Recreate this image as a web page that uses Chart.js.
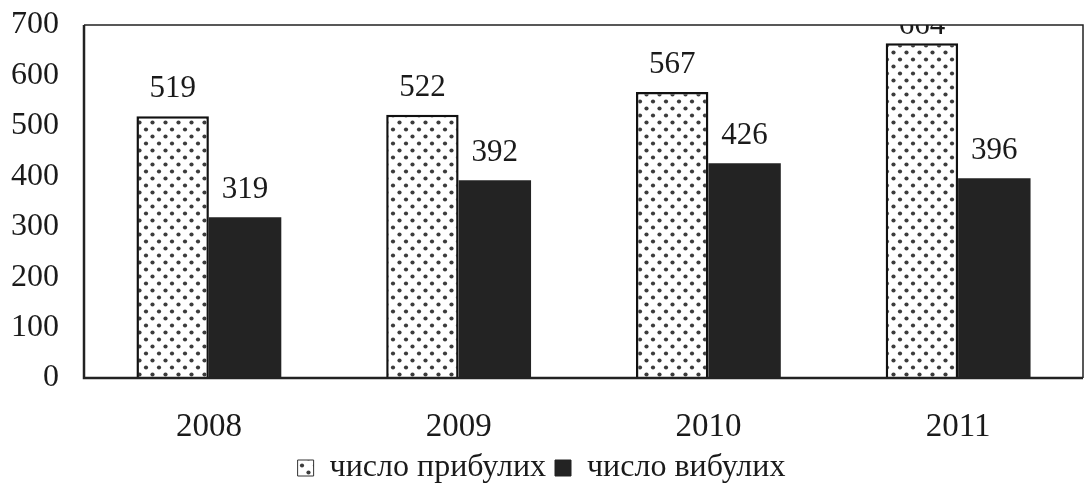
<!DOCTYPE html>
<html>
<head>
<meta charset="utf-8">
<script src="https://cdn.jsdelivr.net/npm/chart.js@4.4.1/dist/chart.umd.min.js"></script>
<style>
  html, body { margin: 0; padding: 0; background: #fff; }
  #wrap { width: 1084px; height: 496px; }
</style>
</head>
<body>
<div id="wrap"><canvas id="c" width="1084" height="496"></canvas></div>
<script>
// дані з діаграми
const years = ['2008', '2009', '2010', '2011'];
const arrived = [519, 522, 567, 664];   // число прибулих
const departed = [319, 392, 426, 396];  // число вибулих
const seriesNames = ['число прибулих', 'число вибулих'];
const yTicks = [0, 100, 200, 300, 400, 500, 600, 700];

const serif = '"Liberation Serif", "Times New Roman", serif';

// крапчаста заливка
function dotPattern() {
  const p = document.createElement('canvas');
  p.width = 13; p.height = 14;
  const g = p.getContext('2d');
  g.fillStyle = '#fff';
  g.fillRect(0, 0, 13, 14);
  g.fillStyle = '#3c3c3c';
  [[3, 3.5], [9.5, 10.5]].forEach(([x, y]) => {
    g.beginPath(); g.arc(x, y, 2.1, 0, Math.PI * 2); g.fill();
  });
  return document.getElementById('c').getContext('2d').createPattern(p, 'repeat');
}
const dots = dotPattern();

// рамка навколо області побудови
const frame = {
  id: 'frame',
  afterDatasetsDraw(chart) {
    const { ctx, chartArea: a } = chart;
    ctx.save();
    ctx.strokeStyle = '#222';
    ctx.lineWidth = 1.5;
    ctx.beginPath();
    ctx.moveTo(a.left, a.top); ctx.lineTo(a.right, a.top);
    ctx.lineTo(a.right, a.bottom);
    ctx.stroke();
    ctx.lineWidth = 2.5;
    ctx.beginPath();
    ctx.moveTo(a.left, a.top); ctx.lineTo(a.left, a.bottom); ctx.lineTo(a.right, a.bottom);
    ctx.stroke();
    ctx.restore();
  }
};

// підписи значень над стовпцями (обрізані по верхній межі)
const valueLabels = {
  id: 'valueLabels',
  afterDatasetsDraw(chart) {
    const { ctx, chartArea: a } = chart;
    ctx.save();
    ctx.beginPath();
    ctx.rect(a.left, a.top, a.right - a.left, a.bottom - a.top);
    ctx.clip();
    ctx.font = '31px ' + serif;
    ctx.fillStyle = '#1a1a1a';
    ctx.textAlign = 'center';
    ctx.textBaseline = 'middle';
    chart.data.datasets.forEach((ds, i) => {
      chart.getDatasetMeta(i).data.forEach((bar, j) => {
        const y = Math.max(bar.y - 27, a.top + 1);
        ctx.fillText(String(ds.data[j]), bar.x, y);
      });
    });
    ctx.restore();
  }
};

new Chart(document.getElementById('c'), {
  type: 'bar',
  data: {
    labels: years,
    datasets: [
      {
        label: seriesNames[0],
        data: arrived,
        backgroundColor: dots,
        borderColor: '#111',
        borderWidth: 2.5,
        borderSkipped: 'bottom',
        barPercentage: 1,
        categoryPercentage: 0.58
      },
      {
        label: seriesNames[1],
        data: departed,
        backgroundColor: '#232323',
        borderWidth: 0,
        barPercentage: 1,
        categoryPercentage: 0.58
      }
    ]
  },
  options: {
    responsive: false,
    animation: false,
    layout: { padding: { top: 25, right: 1, bottom: 2, left: 0 } },
    plugins: {
      tooltip: { enabled: false },
      legend: {
        position: 'bottom',
        labels: {
          color: '#1a1a1a',
          font: { family: serif, size: 32, lineHeight: 1 },
          boxWidth: 16,
          boxHeight: 16,
          padding: 9,
          generateLabels: chart => chart.data.datasets.map((ds, i) => ({
            text: ds.label,
            fillStyle: i === 0 ? dots : '#232323',
            strokeStyle: i === 0 ? '#333' : '#232323',
            lineWidth: 1,
            datasetIndex: i,
            fontColor: '#1a1a1a'
          }))
        }
      }
    },
    scales: {
      x: {
        afterFit: s => { s.height = 65; },
        grid: { display: false, drawTicks: false },
        border: { display: false },
        ticks: { color: '#1a1a1a', padding: 33, font: { family: serif, size: 33, lineHeight: 1 } }
      },
      y: {
        min: 0,
        max: 700,
        afterFit: s => { s.width = 84; s.paddingTop = 0; s.paddingBottom = 0; },
        afterBuildTicks: s => { s.ticks = yTicks.map(v => ({ value: v })); },
        grid: { display: false, drawTicks: false },
        border: { display: false },
        ticks: { color: '#1a1a1a', padding: 25, font: { family: serif, size: 32, lineHeight: 1 } }
      }
    }
  },
  plugins: [frame, valueLabels]
});
</script>
</body>
</html>
